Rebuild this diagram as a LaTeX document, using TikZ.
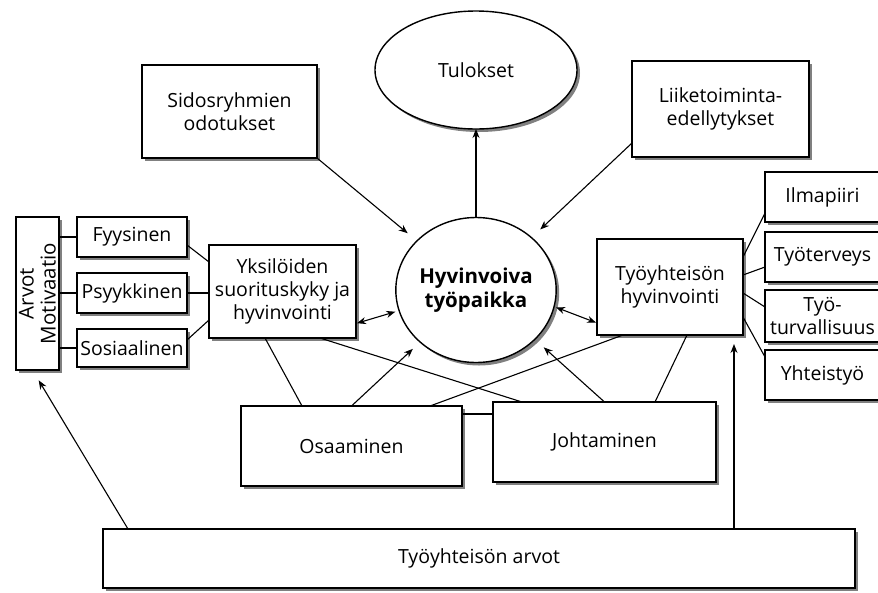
\documentclass[tikz,border=0pt]{standalone}
\usepackage{fontspec}
\setmainfont{Open Sans}
\usetikzlibrary{shapes.geometric,arrows.meta,shadows}

\begin{document}
\begin{tikzpicture}[x=1pt,y=-1pt,
  every node/.style={font=\fontsize{19.5}{23}\selectfont},
  box/.style={draw, line width=1.4pt, fill=white, inner sep=0pt, outer sep=0pt,
    align=center,
    drop shadow={shadow xshift=3pt, shadow yshift=-3pt, fill=black!50, opacity=1}},
  oval/.style={box, ellipse},
  link/.style={line width=1.1pt},
  arr/.style={link, -{Stealth[length=9pt,width=7pt]}},
  both/.style={link, {Stealth[length=9pt,width=7pt]}-{Stealth[length=9pt,width=7pt]}},
]
\fill[white] (0,0) rectangle (878,592);
\useasboundingbox (0,0) rectangle (878,592);

% top row
\node[oval, minimum width=202, minimum height=118] (tulokset) at (476,70) {Tulokset};
\node[box, minimum width=175, minimum height=93] (sidos) at (229.5,111.5) {Sidosryhmien\\odotukset};
\node[box, minimum width=177, minimum height=96] (liike) at (720.5,109) {Liiketoiminta-\\edellytykset};

% centre
\node[oval, minimum width=157, minimum height=145,
  font=\bfseries\fontsize{20.5}{24}\selectfont] (central) at (476,290) {Hyvinvoiva\\työpaikka};

% individual side
\node[box, minimum width=43, minimum height=153] (arvotmot) at (37.5,293.5) {};
\node[rotate=90, align=center, inner sep=0pt,
  font=\fontsize{20.5}{22}\selectfont] (arvotmottxt) at (arvotmot.center) {Arvot\\Motivaatio};
\node[box, minimum width=110, minimum height=40] (fyys) at (132,237) {Fyysinen};
\node[box, minimum width=110, minimum height=40] (psyyk) at (132,293) {Psyykkinen};
\node[box, minimum width=110, minimum height=38] (sosiaal) at (132,348) {Sosiaalinen};
\node[box, minimum width=147, minimum height=93] (yksil) at (282.5,291.5) {Yksilöiden\\suorituskyky ja\\hyvinvointi};

% community side
\node[box, minimum width=146, minimum height=96] (tyohyv) at (670,287) {Työyhteisön\\hyvinvointi};
\node[box, minimum width=115, minimum height=50] (ilma) at (822.5,197) {Ilmapiiri};
\node[box, minimum width=115, minimum height=50] (tyoterv) at (822.5,257) {Työterveys};
\node[box, minimum width=115, minimum height=52] (tyoturv) at (822.5,316) {Työ-\\turvallisuus};
\node[box, minimum width=115, minimum height=50] (yhteis) at (822.5,375) {Yhteistyö};

% bottom
\node[box, minimum width=221, minimum height=80] (osaam) at (351.5,446) {Osaaminen};
\node[box, minimum width=223, minimum height=80] (johta) at (604.5,442) {Johtaminen};
\node[box, minimum width=752, minimum height=59] (arvot) at (479,558.5) {Työyhteisön arvot};

% arrows around the centre
\draw[arr] (central.north) -- (tulokset.south);
\draw[arr, shorten >=12pt] (sidos.south east) -- (central);
\draw[arr, shorten >=12pt] ([yshift=-34pt]liike.west) -- (central);
\draw[both, shorten >=4pt, shorten <=1pt] ([yshift=-32pt]yksil.east) -- (central.195);
\draw[both, shorten <=2pt, shorten >=1pt] (central.-12) -- ([yshift=-36pt]tyohyv.west);
\draw[arr, shorten >=10pt] (osaam.north) -- (central.223);
\draw[arr, shorten >=12pt] (johta.north) -- (central.-40);

% crossing links
\draw[link] ([xshift=-17.5pt]yksil.south) -- ([xshift=-49.5pt]osaam.north);
\draw[link] ([xshift=37.5pt]yksil.south) -- ([xshift=-82.5pt]johta.north);
\draw[link] ([xshift=78.5pt]osaam.north) -- ([xshift=-47pt]tyohyv.south);
\draw[link] ([xshift=50.5pt]johta.north) -- ([xshift=17pt]tyohyv.south);
\coordinate (oj) at ([yshift=-8pt]osaam.north east);
\draw[link] (oj) -- (oj -| johta.west);

% individual factors
\draw[link] (fyys.west) -- (fyys.west -| arvotmot.east);
\draw[link] (psyyk.west) -- (psyyk.west -| arvotmot.east);
\draw[link] (sosiaal.west) -- (sosiaal.west -| arvotmot.east);
\draw[link] ([yshift=-8pt]fyys.east) -- ([yshift=29.5pt]yksil.west);
\draw[link] (psyyk.east) -- (psyyk.east -| yksil.west);
\draw[link] ([yshift=8pt]sosiaal.east) -- ([yshift=-28.5pt]yksil.west);

% community factors
\draw[link] ([yshift=30pt]tyohyv.east) -- ([yshift=-16pt]ilma.west);
\draw[link] ([yshift=12pt]tyohyv.east) -- ([yshift=-10pt]tyoterv.west);
\draw[link] ([yshift=-6pt]tyohyv.east) -- ([yshift=9pt]tyoturv.west);
\draw[link] ([yshift=-30pt]tyohyv.east) -- ([yshift=18pt]yhteis.west);

% values feed both sides
\draw[arr, shorten >=12pt] ([xshift=25pt]arvot.north west) -- ([xshift=-5pt]arvotmot.south);
\coordinate (tx) at ([xshift=-9pt]tyohyv.south east);
\draw[arr, shorten >=9pt] (arvot.north -| tx) -- (tx);
\end{tikzpicture}
\end{document}
